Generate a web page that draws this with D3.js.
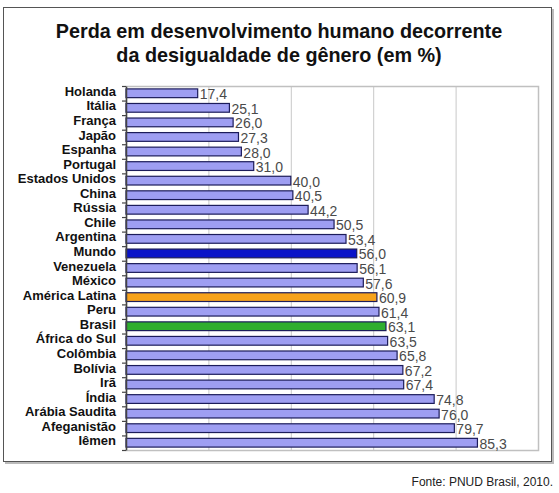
<!DOCTYPE html>
<html>
<head>
<meta charset="utf-8">
<script src="https://cdn.jsdelivr.net/npm/d3@7"></script>
<style>
  body { margin: 0; background: #fff; }
  svg { font-family: "Liberation Sans", Arial, sans-serif; }
</style>
</head>
<body>
<div id="chart"></div>
<script>
// data
var countries = ['Holanda', 'Itália', 'França', 'Japão', 'Espanha', 'Portugal', 'Estados Unidos',
  'China', 'Rússia', 'Chile', 'Argentina', 'Mundo', 'Venezuela', 'México', 'América Latina',
  'Peru', 'Brasil', 'África do Sul', 'Colômbia', 'Bolívia', 'Irã', 'Índia', 'Arábia Saudita',
  'Afeganistão', 'Iêmen'];
var values = [17.4, 25.1, 26.0, 27.3, 28.0, 31.0, 40.0, 40.5, 44.2, 50.5, 53.4, 56.0, 56.1, 57.6,
  60.9, 61.4, 63.1, 63.5, 65.8, 67.2, 67.4, 74.8, 76.0, 79.7, 85.3];
var x_ticks = [0, 20, 40, 60, 80, 100];
var highlight = {'Mundo': '#0a14c8', 'América Latina': '#f7a21b', 'Brasil': '#2fae2f'};

var dataset = countries.map((c, i) => ({name: c, value: values[i]}));

// svg container
chart_width = 559;
chart_height = 493;

var svg = d3.select('#chart')
  .append('svg')
  .attr('width', chart_width)
  .attr('height', chart_height);

// outer frame with a soft shadow
svg.append('rect')
  .attr('x', 5).attr('y', 9)
  .attr('width', 549).attr('height', 455)
  .attr('fill', '#bbb');
svg.append('rect')
  .attr('x', 3.5).attr('y', 7.5)
  .attr('width', 548).attr('height', 454)
  .attr('fill', '#fff')
  .attr('stroke', '#555')
  .attr('stroke-width', 1);

// title
var title = svg.append('text')
  .attr('text-anchor', 'middle')
  .attr('font-weight', 'bold')
  .attr('font-size', 19.8)
  .attr('fill', '#111');
title.append('tspan').attr('x', 279).attr('y', 38).text('Perda em desenvolvimento humano decorrente');
title.append('tspan').attr('x', 279).attr('y', 62).text('da desigualdade de gênero (em %)');

// plot area
var plot = {left: 126, right: 538, top: 86, bottom: 450};

x_scale = d3.scaleLinear()
  .domain([0, 100])
  .range([plot.left, plot.right]);

y_scale = d3.scaleBand()
  .domain(countries)
  .range([plot.top, plot.bottom])
  .paddingInner(0.4)
  .paddingOuter(0.2);

// gridlines
svg.selectAll('line.grid')
  .data(x_ticks.slice(1, -1))
  .enter()
  .append('line')
  .attr('class', 'grid')
  .attr('x1', (d) => x_scale(d) + 0.5)
  .attr('x2', (d) => x_scale(d) + 0.5)
  .attr('y1', plot.top)
  .attr('y2', plot.bottom)
  .attr('stroke', '#c8c8c8');

// plot border
svg.append('rect')
  .attr('x', plot.left + 0.5)
  .attr('y', plot.top + 0.5)
  .attr('width', plot.right - plot.left)
  .attr('height', plot.bottom - plot.top)
  .attr('fill', 'none')
  .attr('stroke', '#c0c0c0')
  .attr('stroke-width', 1.5);

// bars
svg.selectAll('rect.bar')
  .data(dataset)
  .enter()
  .append('rect')
  .attr('class', 'bar')
  .attr('x', plot.left)
  .attr('y', (d) => y_scale(d.name))
  .attr('width', (d) => x_scale(d.value) - plot.left)
  .attr('height', y_scale.bandwidth())
  .attr('fill', (d) => highlight[d.name] || '#9e9ef2')
  .attr('stroke', '#1c1c5a')
  .attr('stroke-width', 1.2);

// value labels
svg.selectAll('text.value')
  .data(dataset)
  .enter()
  .append('text')
  .attr('class', 'value')
  .text((d) => d.value.toFixed(1).replace('.', ','))
  .attr('x', (d) => x_scale(d.value) + 2)
  .attr('y', (d) => y_scale(d.name) + y_scale.bandwidth() / 2 + 6)
  .attr('font-size', 14)
  .attr('fill', '#4a4a4a');

// left axis with ticks between categories
var y_axis = d3.axisLeft(y_scale).tickSize(0).tickPadding(10);
var ga = svg.append('g')
  .attr('transform', 'translate(' + plot.left + ',0)')
  .call(y_axis);
ga.select('.domain').attr('stroke', '#444').attr('stroke-width', 1.5);
ga.selectAll('text')
  .attr('font-family', '"Liberation Sans", Arial, sans-serif')
  .attr('font-weight', 'bold')
  .attr('font-size', 13)
  .attr('dy', '0.2em')
  .attr('fill', '#111');

var step = y_scale.step();
svg.selectAll('line.ytick')
  .data(countries.concat(['end']))
  .enter()
  .append('line')
  .attr('class', 'ytick')
  .attr('x1', plot.left - 4)
  .attr('x2', plot.left)
  .attr('y1', (d, i) => plot.top + i * step + 0.5)
  .attr('y2', (d, i) => plot.top + i * step + 0.5)
  .attr('stroke', '#444')
  .attr('stroke-width', 1.2);

// source
svg.append('text')
  .attr('x', 553)
  .attr('y', 486)
  .attr('text-anchor', 'end')
  .attr('font-size', 12)
  .attr('fill', '#222')
  .text('Fonte: PNUD Brasil, 2010.');
</script>
</body>
</html>
